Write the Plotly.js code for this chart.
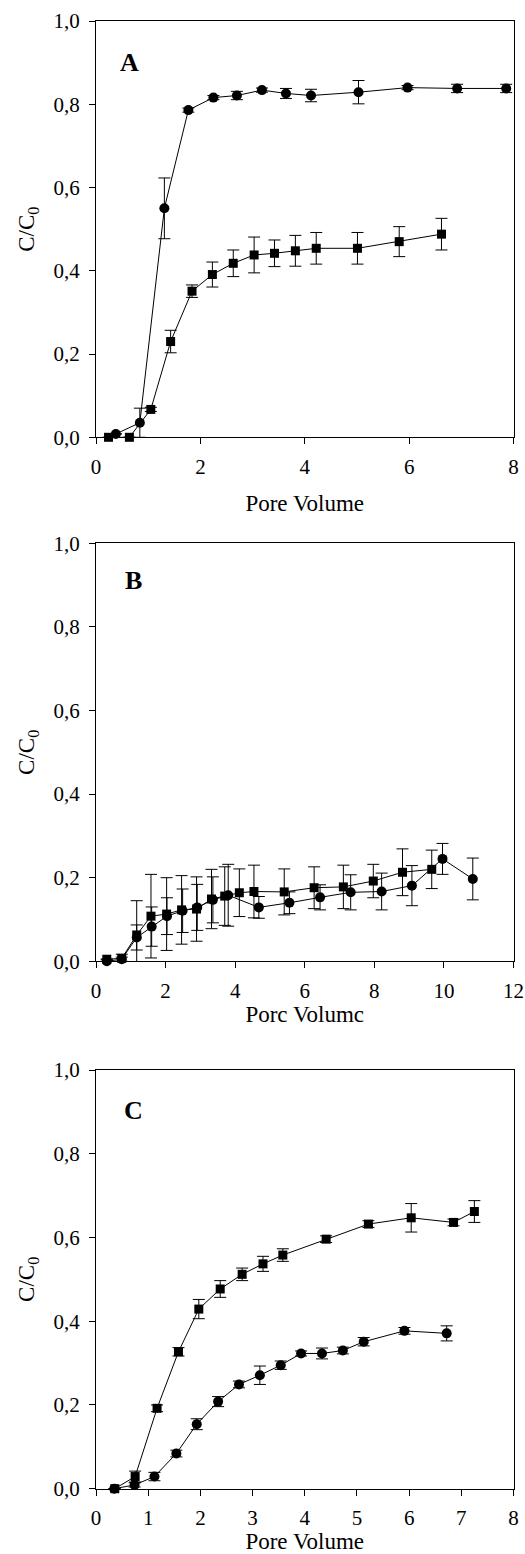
<!DOCTYPE html>
<html>
<head>
<meta charset="utf-8">
<script src="https://cdn.plot.ly/plotly-3.0.1.min.js"></script>
<style>html,body{margin:0;padding:0;background:#fff}#chart{width:525px;height:1554px}</style>
</head>
<body>
<div id="chart"></div>
<script>
// ---------- Panel A ----------
const aCircleX   = [0.38, 0.84, 1.31, 1.77, 2.25, 2.70, 3.18, 3.64, 4.12, 5.03, 5.97, 6.92, 7.86];
const aCircleY   = [0.008, 0.035, 0.55, 0.786, 0.816, 0.821, 0.834, 0.826, 0.821, 0.829, 0.840, 0.838, 0.838];
const aCircleErr = [0, 0.035, 0.073, 0.005, 0.005, 0.01, 0.005, 0.012, 0.015, 0.028, 0.005, 0.01, 0.01];
const aSquareX   = [0.24, 0.64, 1.05, 1.43, 1.84, 2.23, 2.63, 3.03, 3.42, 3.82, 4.22, 5.01, 5.81, 6.62];
const aSquareY   = [0, 0, 0.067, 0.230, 0.351, 0.391, 0.418, 0.438, 0.442, 0.448, 0.454, 0.454, 0.470, 0.488];
const aSquareErr = [0, 0, 0.005, 0.027, 0.015, 0.03, 0.032, 0.043, 0.032, 0.037, 0.038, 0.038, 0.036, 0.038];

// ---------- Panel B ----------
const bSquareX   = [0.31, 0.74, 1.17, 1.58, 2.03, 2.46, 2.89, 3.32, 3.70, 4.12, 4.54, 5.41, 6.27, 7.11, 7.97, 8.81, 9.65];
const bSquareY   = [0.005, 0.007, 0.063, 0.108, 0.113, 0.123, 0.125, 0.149, 0.156, 0.164, 0.167, 0.166, 0.176, 0.178, 0.192, 0.213, 0.220];
const bSquareErr = [0, 0.01, 0.082, 0.1, 0.087, 0.082, 0.077, 0.071, 0.07, 0.057, 0.063, 0.055, 0.05, 0.052, 0.04, 0.056, 0.046];
const bCircleX   = [0.31, 0.74, 1.17, 1.60, 2.04, 2.49, 2.91, 3.36, 3.80, 4.68, 5.56, 6.44, 7.32, 8.21, 9.08, 9.96, 10.83];
const bCircleY   = [0, 0.005, 0.057, 0.083, 0.108, 0.121, 0.129, 0.147, 0.158, 0.129, 0.140, 0.153, 0.165, 0.167, 0.181, 0.245, 0.197];
const bCircleErr = [0, 0.005, 0.03, 0.047, 0.044, 0.052, 0.055, 0.055, 0.074, 0.026, 0.026, 0.03, 0.042, 0.044, 0.048, 0.037, 0.05];

// ---------- Panel C ----------
const cSquareX   = [0.36, 0.75, 1.17, 1.58, 1.97, 2.38, 2.80, 3.20, 3.58, 4.41, 5.22, 6.04, 6.85, 7.25];
const cSquareY   = [0, 0.029, 0.192, 0.327, 0.429, 0.477, 0.512, 0.537, 0.558, 0.596, 0.632, 0.647, 0.636, 0.662];
const cSquareErr = [0, 0.013, 0.008, 0.01, 0.023, 0.02, 0.015, 0.018, 0.015, 0.008, 0.008, 0.034, 0.008, 0.026];
const cCircleX   = [0.35, 0.74, 1.12, 1.54, 1.93, 2.34, 2.74, 3.14, 3.54, 3.93, 4.33, 4.73, 5.13, 5.91, 6.72];
const cCircleY   = [0, 0.009, 0.029, 0.084, 0.154, 0.208, 0.249, 0.271, 0.295, 0.323, 0.323, 0.330, 0.351, 0.377, 0.371];
const cCircleErr = [0, 0.005, 0.01, 0.008, 0.013, 0.012, 0.008, 0.022, 0.01, 0.006, 0.013, 0.008, 0.01, 0.008, 0.018];

const panelLabels = ['A', 'B', 'C'];
const xTitles = ['Pore Volume', 'Porc Volumc', 'Pore Volume'];
const yTitle = 'C/C<sub>0</sub>';
const yTickVals = [0, 0.2, 0.4, 0.6, 0.8, 1.0];

const FONT = 'Liberation Serif, Times New Roman, serif';

function series(x, y, err, symbol, xa, ya) {
  return {
    x: x, y: y, xaxis: xa, yaxis: ya,
    type: 'scatter', mode: 'lines+markers', cliponaxis: false,
    line: {color: '#000', width: 1},
    marker: {symbol: symbol, size: symbol === 'circle' ? 10 : 9, color: '#000'},
    error_y: {type: 'data', array: err, visible: true, color: '#000', thickness: 1, width: 6},
    showlegend: false, hoverinfo: 'x+y'
  };
}

const data = [
  series(aCircleX, aCircleY, aCircleErr, 'circle', 'x', 'y'),
  series(aSquareX, aSquareY, aSquareErr, 'square', 'x', 'y'),
  series(bCircleX, bCircleY, bCircleErr, 'circle', 'x2', 'y2'),
  series(bSquareX, bSquareY, bSquareErr, 'square', 'x2', 'y2'),
  series(cCircleX, cCircleY, cCircleErr, 'circle', 'x3', 'y3'),
  series(cSquareX, cSquareY, cSquareErr, 'square', 'x3', 'y3')
];

const H = 1554, W = 525;
const xDom = [96 / W, 513.5 / W];
const yDoms = [
  [1 - 437.3 / H, 1 - 21 / H],
  [1 - 961.3 / H, 1 - 543.3 / H],
  [1 - 1488.7 / H, 1 - 1070 / H]
];
const xRanges = [[0, 8], [0, 12], [0, 8]];
const xDticks = [2, 2, 1];
const xStandoffs = [17, 4, 6];

function xaxis(i) {
  return {
    domain: xDom, range: xRanges[i], dtick: xDticks[i], tick0: 0,
    anchor: i === 0 ? 'y' : 'y' + (i + 1),
    showline: true, mirror: true, linecolor: '#000', linewidth: 1,
    ticks: 'outside', ticklen: 6, tickcolor: '#000', tickwidth: 1,
    ticklabelstandoff: 4,
    showgrid: false, zeroline: false,
    tickfont: {family: FONT, size: 21, color: '#000'},
    title: {text: xTitles[i], font: {family: FONT, size: 23, color: '#000'}, standoff: xStandoffs[i]},
    automargin: false, fixedrange: true
  };
}
function yaxis(i) {
  return {
    domain: yDoms[i], range: [0, 1], tickvals: yTickVals, tickformat: '.1f',
    anchor: i === 0 ? 'x' : 'x' + (i + 1),
    showline: true, mirror: true, linecolor: '#000', linewidth: 1,
    ticks: 'outside', ticklen: 6, tickcolor: '#000', tickwidth: 1,
    ticklabelstandoff: 5,
    showgrid: false, zeroline: false,
    tickfont: {family: FONT, size: 21, color: '#000'},
    title: {text: yTitle, font: {family: FONT, size: 23, color: '#000'}, standoff: 12},
    automargin: false, fixedrange: true
  };
}

const labelPos = [[0.081, 0.90], [0.089, 0.912], [0.091, 0.904]];
const annotations = panelLabels.map((t, i) => ({
  text: '<b>' + t + '</b>',
  xref: (i === 0 ? 'x' : 'x' + (i + 1)) + ' domain',
  yref: (i === 0 ? 'y' : 'y' + (i + 1)) + ' domain',
  x: labelPos[i][0], y: labelPos[i][1], xanchor: 'center', yanchor: 'middle',
  showarrow: false, font: {family: FONT, size: 26, color: '#000'}
}));

const layout = {
  width: W, height: H,
  margin: {l: 0, r: 0, t: 0, b: 0},
  paper_bgcolor: '#fff', plot_bgcolor: '#fff',
  separators: ',.',
  font: {family: FONT, color: '#000'},
  xaxis: xaxis(0), yaxis: yaxis(0),
  xaxis2: xaxis(1), yaxis2: yaxis(1),
  xaxis3: xaxis(2), yaxis3: yaxis(2),
  annotations: annotations
};

Plotly.newPlot('chart', data, layout, {displayModeBar: false, staticPlot: true});
</script>
</body>
</html>
